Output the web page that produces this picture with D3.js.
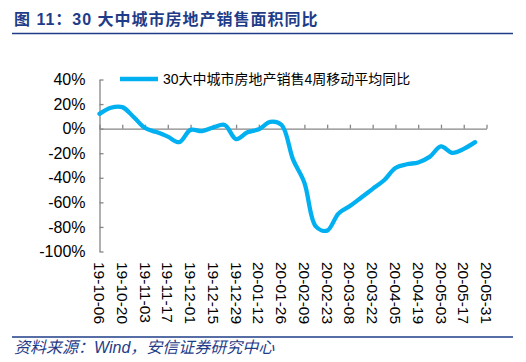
<!DOCTYPE html>
<html>
<head>
<meta charset="utf-8">
<script src="https://cdn.jsdelivr.net/npm/d3@7"></script>
<style>
  body { margin: 0; background: #fff; }
  svg { display: block; }
  text { font-family: "Liberation Sans", Arial, "Noto Sans CJK SC", sans-serif; }
</style>
</head>
<body>
<svg id="chart" width="526" height="362"></svg>
<script>
// ---- data ----
const weeks = [
  "2019-10-06", "2019-10-13", "2019-10-20", "2019-10-27", "2019-11-03", "2019-11-10",
  "2019-11-17", "2019-11-24", "2019-12-01", "2019-12-08", "2019-12-15", "2019-12-22",
  "2019-12-29", "2020-01-05", "2020-01-12", "2020-01-19", "2020-01-26", "2020-02-02",
  "2020-02-09", "2020-02-16", "2020-02-23", "2020-03-01", "2020-03-08", "2020-03-15",
  "2020-03-22", "2020-03-29", "2020-04-05", "2020-04-12", "2020-04-19", "2020-04-26",
  "2020-05-03", "2020-05-10", "2020-05-17", "2020-05-24"
];
const salesYoY = [
  12, 17, 17.5, 9.5, 0.5, -2.8,
  -6.5, -11, -1, -2, 1, 3,
  -8.5, -3, -0.5, 5.5, 3, -25,
  -44, -79.5, -83, -69, -63, -56,
  -49, -42, -32, -29, -27.5, -23,
  -14.5, -19.7, -16.5, -11
];
const tickDates = [
  "2019-10-06", "2019-10-20", "2019-11-03", "2019-11-17", "2019-12-01", "2019-12-15",
  "2019-12-29", "2020-01-12", "2020-01-26", "2020-02-09", "2020-02-23", "2020-03-08",
  "2020-03-22", "2020-04-05", "2020-04-19", "2020-05-03", "2020-05-17", "2020-05-31"
];
const yTicks = [40, 20, 0, -20, -40, -60, -80, -100];

const seriesName = "30大中城市房地产销售4周移动平均同比";
const title = "图 11：30 大中城市房地产销售面积同比";
const source = "资料来源：Wind，安信证券研究中心";

// ---- setup ----
const parse = d3.timeParse("%Y-%m-%d");
const fmt = d3.timeFormat("%y-%m-%d");
const data = weeks.map((d, i) => ({date: parse(d), v: salesYoY[i]}));

const svg = d3.select("#chart");
const navy = "#1f3c88";
const axisGrey = "#868686";

const x = d3.scaleTime()
    .domain([parse(tickDates[0]), parse(tickDates[tickDates.length - 1])])
    .range([99.5, 486.5]);
const y = d3.scaleLinear()
    .domain([-100, 40])
    .range([251.5, 79.5]);

// header / footer
svg.append("text")
    .attr("x", 14).attr("y", 25)
    .attr("fill", navy)
    .attr("font-size", 16)
    .attr("font-weight", "bold")
    .attr("letter-spacing", 1)
    .text(title);
svg.append("line")
    .attr("x1", 12).attr("x2", 513)
    .attr("y1", 33.5).attr("y2", 33.5)
    .attr("stroke", navy).attr("stroke-width", 1.3);
svg.append("line")
    .attr("x1", 12).attr("x2", 513)
    .attr("y1", 337).attr("y2", 337)
    .attr("stroke", navy).attr("stroke-width", 1.3);
svg.append("text")
    .attr("x", 14).attr("y", 353)
    .attr("fill", navy)
    .attr("font-size", 16)
    .attr("font-style", "italic")
    .text(source);

// y axis, ticks pointing inward
const yAxis = svg.append("g")
    .attr("transform", `translate(${x.range()[0]},0)`)
    .call(d3.axisLeft(y)
        .tickValues(yTicks)
        .tickSizeInner(-4)
        .tickSizeOuter(0)
        .tickPadding(14)
        .tickFormat(d => d + "%"));
yAxis.selectAll("path, line").attr("stroke", axisGrey).attr("stroke-width", 1.3);
yAxis.selectAll("text")
    .attr("font-size", 16)
    .attr("fill", "#000")
    .style("font-family", "'Liberation Sans', Arial, sans-serif");

// x axis sits on the zero line, ticks pointing up
const xAxis = svg.append("g")
    .attr("transform", `translate(0,${y(0)})`)
    .call(d3.axisBottom(x)
        .tickValues(tickDates.map(parse))
        .tickSizeInner(-4)
        .tickSizeOuter(0)
        .tickFormat(""));
xAxis.selectAll("path, line").attr("stroke", axisGrey).attr("stroke-width", 1.3);

// rotated date labels under the plot
svg.append("g")
    .selectAll("text")
    .data(tickDates.map(parse))
    .join("text")
    .attr("transform", d => `translate(${x(d)},262) rotate(90)`)
    .attr("dy", "0.35em")
    .attr("font-size", 15.5)
    .attr("fill", "#000")
    .text(d => fmt(d));

// the series
const line = d3.line()
    .x(d => x(d.date))
    .y(d => y(d.v))
    .curve(d3.curveCatmullRom.alpha(0.5));
svg.append("path")
    .datum(data)
    .attr("fill", "none")
    .attr("stroke", "#00b0f0")
    .attr("stroke-width", 4.3)
    .attr("stroke-linejoin", "round")
    .attr("stroke-linecap", "round")
    .attr("d", line);

// legend
svg.append("line")
    .attr("x1", 120).attr("x2", 158)
    .attr("y1", 79).attr("y2", 79)
    .attr("stroke", "#00b0f0")
    .attr("stroke-width", 4.3);
svg.append("text")
    .attr("x", 163).attr("y", 84)
    .attr("font-size", 14)
    .attr("fill", "#000")
    .text(seriesName);
</script>
</body>
</html>
